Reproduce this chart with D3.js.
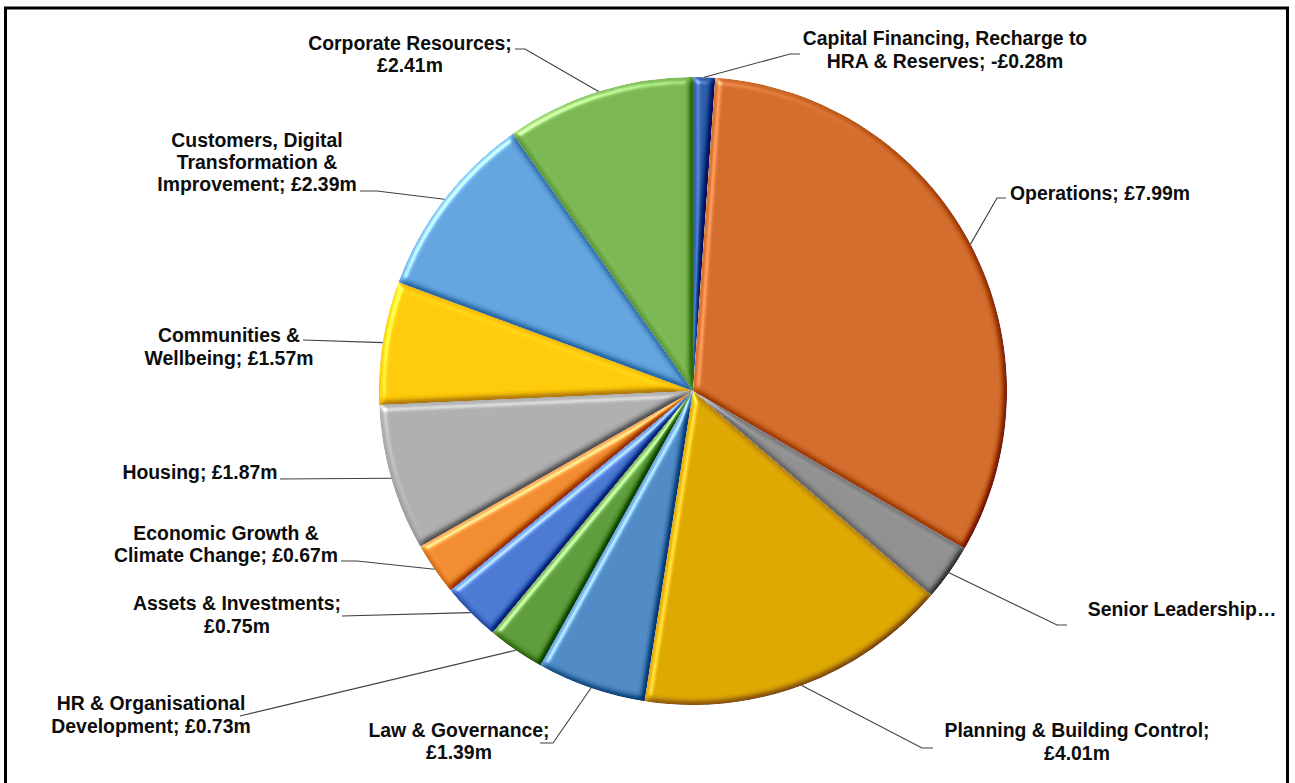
<!DOCTYPE html>
<html>
<head>
<meta charset="utf-8">
<script src="https://cdn.jsdelivr.net/npm/d3@7/dist/d3.min.js"></script>
<style>
  html, body { margin: 0; padding: 0; background: #fff; }
  svg { display: block; }
  .lbl { font-family: "Liberation Sans", Arial, sans-serif; font-weight: bold; font-size: 19.4px; fill: #0d0d0d; }
</style>
</head>
<body>
<svg id="chart" width="1295" height="783"></svg>
<script>
// Service budgets (£m), clockwise from 12 o'clock
const categories = [
  "Capital Financing, Recharge to HRA & Reserves",
  "Operations",
  "Senior Leadership",
  "Planning & Building Control",
  "Law & Governance",
  "HR & Organisational Development",
  "Assets & Investments",
  "Economic Growth & Climate Change",
  "Housing",
  "Communities & Wellbeing",
  "Customers, Digital Transformation & Improvement",
  "Corporate Resources"
];
const values = [-0.28, 7.99, 0.72, 4.01, 1.39, 0.73, 0.75, 0.67, 1.87, 1.57, 2.39, 2.41];
const colors = [
  "#2c5ba8", "#d06b2b", "#8e8e8e", "#dca600", "#4e89c4", "#5c9a3b",
  "#4a78d0", "#f08a30", "#adadad", "#ffc90a", "#62a3de", "#78b551"
];
// Label text, broken into lines; {v} is replaced by the formatted value
const labelLines = [
  ["Capital Financing, Recharge to", "HRA & Reserves; {v}"],
  ["Operations; {v}"],
  ["Senior Leadership\u2026"],
  ["Planning & Building Control;", "{v}"],
  ["Law & Governance;", "{v}"],
  ["HR & Organisational", "Development; {v}"],
  ["Assets & Investments;", "{v}"],
  ["Economic Growth &", "Climate Change; {v}"],
  ["Housing; {v}"],
  ["Communities &", "Wellbeing; {v}"],
  ["Customers, Digital", "Transformation &", "Improvement; {v}"],
  ["Corporate Resources;", "{v}"]
];

// Label placement: centre x, line centre ys, optional elbow, and leader end point
const labelLayout = [
  { x: 945,  ys: [38, 61],        elbow: [790, 54],  end: [800, 54] },
  { x: 1100, ys: [193],           elbow: [997, 198], end: [1006, 198] },
  { x: 1182, ys: [609],           elbow: [1057, 625], end: [1067, 625] },
  { x: 1077, ys: [730, 753],      elbow: [922, 748], end: [933, 748] },
  { x: 459,  ys: [730, 752],      elbow: [553, 743], end: [540, 743] },
  { x: 151,  ys: [703, 726],      elbow: null,       end: [240, 716] },
  { x: 237,  ys: [603, 626],      elbow: null,       end: [342, 616] },
  { x: 226,  ys: [533, 555],      elbow: [357, 561], end: [341, 561] },
  { x: 200,  ys: [472],           elbow: null,       end: [280, 479] },
  { x: 229,  ys: [335, 358],      elbow: null,       end: [303, 340] },
  { x: 257,  ys: [140, 162, 184], elbow: [377, 191], end: [360, 191] },
  { x: 410,  ys: [43, 65],        elbow: [525, 49],  end: [515, 49] }
];

const cx = 693, cy = 391, R = 314;

const svg = d3.select("#chart");

// Bevel: blurred alpha as a height map, lit from the top-left
const defs = svg.append("defs");
const f = defs.append("filter").attr("id", "bevel")
  .attr("x", "-5%").attr("y", "-5%").attr("width", "110%").attr("height", "110%")
  .attr("color-interpolation-filters", "sRGB");
f.append("feGaussianBlur").attr("in", "SourceAlpha").attr("stdDeviation", 3.4).attr("result", "blur");
f.append("feDiffuseLighting").attr("in", "blur").attr("surfaceScale", 4.5)
  .attr("diffuseConstant", 1).attr("lighting-color", "#fff").attr("result", "diff")
  .append("feDistantLight").attr("azimuth", 225).attr("elevation", 55);
f.append("feSpecularLighting").attr("in", "blur").attr("surfaceScale", 4.5)
  .attr("specularConstant", 0.8).attr("specularExponent", 20).attr("lighting-color", "#fff").attr("result", "spec")
  .append("feDistantLight").attr("azimuth", 225).attr("elevation", 38);
// diffuse term is neutral (0) on flat areas: 0.55 * sin(55deg) = 0.4505
f.append("feComposite").attr("in", "SourceGraphic").attr("in2", "diff")
  .attr("operator", "arithmetic").attr("k1", 0).attr("k2", 1).attr("k3", 0.55).attr("k4", -0.4505)
  .attr("result", "shaded");
f.append("feComposite").attr("in", "spec").attr("in2", "SourceAlpha").attr("operator", "in").attr("result", "specIn");
f.append("feComposite").attr("in", "shaded").attr("in2", "specIn")
  .attr("operator", "arithmetic").attr("k1", 0).attr("k2", 1).attr("k3", 0.5).attr("k4", -0.035)
  .attr("result", "lit");
f.append("feComposite").attr("in", "lit").attr("in2", "SourceAlpha").attr("operator", "in");

// Chart frame
svg.append("rect")
  .attr("x", 5.5).attr("y", 8).attr("width", 1282).attr("height", 810)
  .attr("fill", "none").attr("stroke", "#000").attr("stroke-width", 3);

const data = categories.map((c, i) => ({ name: c, value: values[i], color: colors[i], lines: labelLines[i], layout: labelLayout[i] }));

const pie = d3.pie().value(d => Math.abs(d.value)).sort(null).startAngle(0).endAngle(2 * Math.PI);
const arcs = pie(data);
const arc = d3.arc().innerRadius(0).outerRadius(R);
const rim = d3.arc().innerRadius(R).outerRadius(R);

const g = svg.append("g").attr("transform", `translate(${cx},${cy})`);
g.selectAll("path.slice").data(arcs).join("path")
  .attr("class", "slice")
  .attr("d", arc)
  .attr("fill", d => d.data.color)
  .attr("filter", "url(#bevel)");

const fmt = v => (v < 0 ? "-" : "") + "£" + Math.abs(v).toFixed(2) + "m";

// Leader lines from each slice's outer edge
const lineGen = d3.line();
svg.append("g").selectAll("path.leader").data(arcs).join("path")
  .attr("class", "leader")
  .attr("d", d => {
    const p = rim.centroid(d);
    const pts = [[p[0] + cx, p[1] + cy]];
    if (d.data.layout.elbow) pts.push(d.data.layout.elbow);
    pts.push(d.data.layout.end);
    return lineGen(pts);
  })
  .attr("fill", "none").attr("stroke", "#404040").attr("stroke-width", 1.1);

// Data labels
const labels = svg.append("g").selectAll("text.lbl").data(arcs).join("text")
  .attr("class", "lbl")
  .attr("text-anchor", "middle");
labels.each(function(d) {
  const t = d3.select(this);
  d.data.lines.forEach((ln, j) => {
    t.append("tspan")
      .attr("x", d.data.layout.x)
      .attr("y", d.data.layout.ys[j])
      .attr("dy", "0.35em")
      .text(ln.replace("{v}", fmt(d.data.value)));
  });
});
</script>
</body>
</html>
